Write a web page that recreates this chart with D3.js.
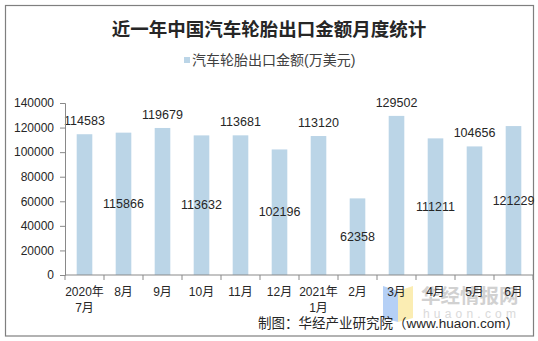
<!DOCTYPE html>
<html>
<head>
<meta charset="utf-8">
<script src="https://cdn.jsdelivr.net/npm/d3@7"></script>
<style>
  html, body { margin: 0; padding: 0; background: #fff; }
  svg { display: block; }
</style>
</head>
<body>
<svg id="chart" width="538" height="341"></svg>
<script>
// Monthly tyre export value, July 2020 – June 2021 (unit: 10k USD)
const categories = ["2020年\n7月", "8月", "9月", "10月", "11月", "12月", "2021年\n1月", "2月", "3月", "4月", "5月", "6月"];
const values = [114583, 115866, 119679, 113632, 113681, 102196, 113120, 62358, 129502, 111211, 104656, 121229];
const yTicks = [0, 20000, 40000, 60000, 80000, 100000, 120000, 140000];
// label above the bar ("top") or centred inside it ("mid")
const labelPos = ["top", "mid", "top", "mid", "top", "mid", "top", "mid", "top", "mid", "top", "mid"];

const svg = d3.select("#chart");
const latin = "'Liberation Sans', Arial, sans-serif";
const cjk = "'Liberation Sans', 'Noto Sans CJK SC', sans-serif";

const plot = { left: 65, right: 533, top: 103, bottom: 275 };

const x = d3.scaleBand()
  .domain(categories)
  .range([plot.left, plot.right])
  .paddingInner(0.6)
  .paddingOuter(0.3);

const y = d3.scaleLinear()
  .domain([0, 140000])
  .range([plot.bottom, plot.top]);

// outer frame
svg.append("rect")
  .attr("x", 5.5).attr("y", 5.5)
  .attr("width", 528).attr("height", 330.5)
  .attr("fill", "#fff")
  .attr("stroke", "#7f7f7f")
  .attr("stroke-width", 1.2);

// title
svg.append("text")
  .attr("x", 269).attr("y", 36)
  .attr("text-anchor", "middle")
  .attr("font-family", "'Noto Sans CJK SC', sans-serif")
  .attr("font-weight", "bold")
  .attr("font-size", 18.5)
  .attr("fill", "#262626")
  .text("近一年中国汽车轮胎出口金额月度统计");

// legend
const legend = svg.append("g");
legend.append("rect")
  .attr("x", 184).attr("y", 57)
  .attr("width", 6).attr("height", 6)
  .attr("fill", "#bbd5e7");
legend.append("text")
  .attr("x", 192).attr("y", 65)
  .attr("font-family", cjk)
  .attr("font-size", 14)
  .attr("fill", "#404040")
  .text("汽车轮胎出口金额(万美元)");

// watermark
const wm = svg.append("g").attr("opacity", 0.85);
wm.append("path")
  .attr("d", "M383,286 L398,291 L398,322 L383,318 Z")
  .attr("fill", "#a9c8f5");
wm.append("path")
  .attr("d", "M398,291 L413,286 L413,318 L398,322 Z")
  .attr("fill", "#fbeaa6");
wm.append("text")
  .attr("x", 421).attr("y", 303)
  .attr("font-family", "'Noto Sans CJK SC', sans-serif")
  .attr("font-weight", "bold")
  .attr("font-size", 19.5)
  .attr("fill", "#c9c9c9")
  .text("华经情报网");
wm.append("text")
  .attr("x", 423).attr("y", 318)
  .attr("font-family", latin)
  .attr("font-size", 12)
  .attr("letter-spacing", 4.2)
  .attr("fill", "#d4d4d4")
  .text("huaon.com");

// bars
svg.append("g")
  .selectAll("rect")
  .data(values)
  .join("rect")
  .attr("x", (d, i) => x(categories[i]))
  .attr("y", d => y(d))
  .attr("width", x.bandwidth())
  .attr("height", d => y(0) - y(d))
  .attr("fill", "#bbd5e7");

// value labels
svg.append("g")
  .selectAll("text")
  .data(values)
  .join("text")
  .attr("x", (d, i) => x(categories[i]) + x.bandwidth() / 2)
  .attr("y", (d, i) => labelPos[i] === "top" ? y(d) - 9 : (y(d) + y(0)) / 2 + 4)
  .attr("text-anchor", "middle")
  .attr("font-family", latin)
  .attr("font-size", 12.5)
  .attr("fill", "#262626")
  .text(d => d);

// y axis
const yAxis = svg.append("g")
  .attr("transform", `translate(${plot.left},0)`)
  .call(d3.axisLeft(y).tickValues(yTicks).tickSize(5).tickPadding(6).tickFormat(d3.format("d")));
yAxis.select(".domain").attr("stroke", "#898989");
yAxis.selectAll(".tick line").attr("stroke", "#898989");
yAxis.selectAll(".tick text")
  .attr("font-family", latin)
  .attr("font-size", 12)
  .attr("fill", "#262626");

// x axis with boundary ticks between categories
const xAxisG = svg.append("g").attr("transform", `translate(0,${plot.bottom})`);
xAxisG.append("line")
  .attr("x1", plot.left).attr("x2", plot.right)
  .attr("stroke", "#898989");
const bounds = d3.range(categories.length + 1).map(i => plot.left + i * (plot.right - plot.left) / categories.length);
xAxisG.selectAll("line.tk")
  .data(bounds)
  .join("line")
  .attr("class", "tk")
  .attr("x1", d => d).attr("x2", d => d)
  .attr("y1", 0).attr("y2", 5)
  .attr("stroke", "#898989");

const xl = svg.append("g")
  .selectAll("text")
  .data(categories)
  .join("text")
  .attr("x", d => x(d) + x.bandwidth() / 2)
  .attr("y", 296)
  .attr("text-anchor", "middle")
  .attr("font-family", cjk)
  .attr("font-size", 12)
  .attr("fill", "#262626");
xl.each(function(d) {
  const lines = d.split("\n");
  d3.select(this).selectAll("tspan")
    .data(lines)
    .join("tspan")
    .attr("x", d3.select(this).attr("x"))
    .attr("dy", (l, j) => j === 0 ? 0 : 15.5)
    .text(l => l);
});

// source note
svg.append("text")
  .attr("x", 519).attr("y", 328)
  .attr("text-anchor", "end")
  .attr("font-family", cjk)
  .attr("font-size", 13.5)
  .attr("fill", "#262626")
  .text("制图：华经产业研究院（www.huaon.com）");
</script>
</body>
</html>
